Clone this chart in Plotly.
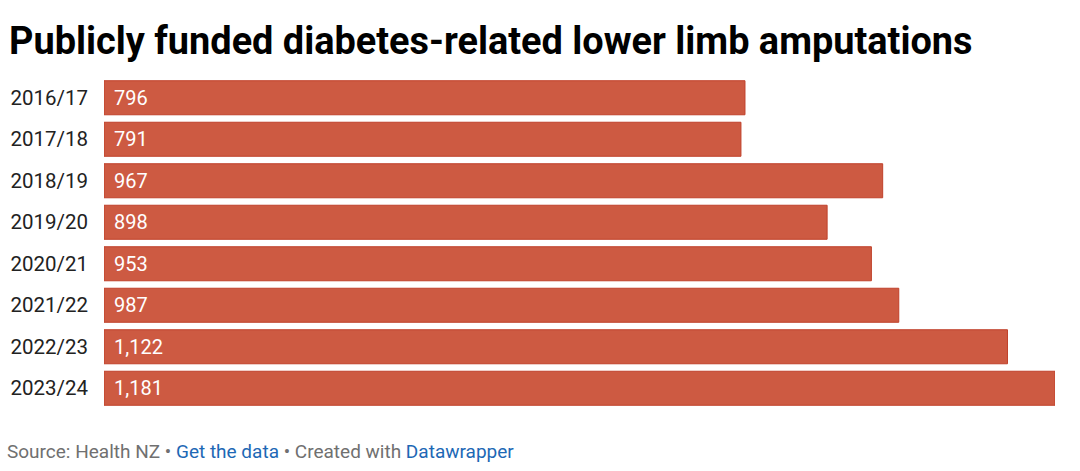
import plotly.graph_objects as go

categories = ["2016/17", "2017/18", "2018/19", "2019/20", "2020/21", "2021/22", "2022/23", "2023/24"]
values = [796, 791, 967, 898, 953, 987, 1122, 1181]
value_labels = ["796", "791", "967", "898", "953", "987", "1,122", "1,181"]

title_text = "Publicly funded diabetes-related lower limb amputations"
footer_text = ("Source: Health NZ • <span style='color:#1d68b5'>Get the data</span> • "
               "Created with <span style='color:#1d68b5'>Datawrapper</span>")

FONT = "Roboto, Arial, sans-serif"

fig = go.Figure()
fig.add_trace(go.Bar(
    x=values, y=categories, orientation="h",
    marker=dict(color="#cd5a42", line=dict(color="#c0412a", width=1)),
    hoverinfo="skip",
))

for c, v, lab in zip(categories, values, value_labels):
    fig.add_annotation(x=0, y=c, xref="x", yref="y", text=lab, showarrow=False,
                       xanchor="left", yanchor="middle", xshift=8,
                       font=dict(family=FONT, size=20, color="white"))

fig.update_layout(
    width=1080, height=471,
    margin=dict(l=104, r=25, t=77, b=62, autoexpand=False),
    paper_bgcolor="white", plot_bgcolor="white",
    bargap=0.18,
    showlegend=False,
    title=dict(text=f"<b>{title_text}</b>", x=9/1080, xanchor="left",
               y=1 - 41/471, yanchor="middle", yref="container", xref="container",
               font=dict(family=FONT, size=37.9, color="#000")),
    xaxis=dict(range=[0, 1181], visible=False, fixedrange=True, automargin=False),
    yaxis=dict(categoryorder="array", categoryarray=categories, autorange="reversed",
               showgrid=False, zeroline=False, showline=False, ticks="",
               ticklabelstandoff=15, automargin=False,
               tickfont=dict(family=FONT, size=20.5, color="#222")),
)
fig.add_annotation(x=-99/951, y=-(451 - 408.7) / 331.3, xref="paper", yref="paper",
                   text=footer_text, showarrow=False, xanchor="left", yanchor="middle",
                   font=dict(family=FONT, size=19, color="#707070"))

fig.write_html("out.html")
